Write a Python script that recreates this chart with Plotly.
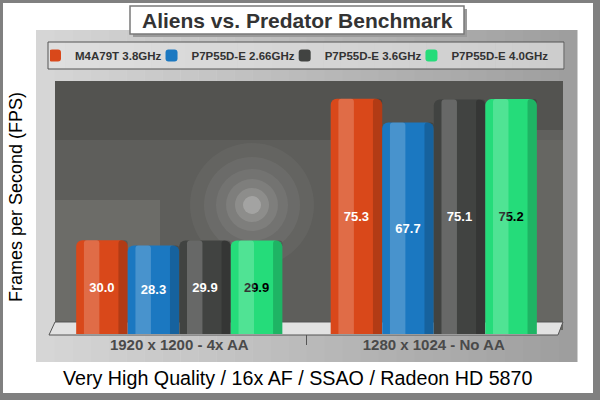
import plotly.graph_objects as go

# data
categories = ["1920 x 1200 - 4x AA", "1280 x 1024 - No AA"]
series_names = ["M4A79T 3.8GHz", "P7P55D-E 2.66GHz", "P7P55D-E 3.6GHz", "P7P55D-E 4.0GHz"]
m4a79t_38 = [30.0, 75.3]
p7p55de_266 = [28.3, 67.7]
p7p55de_36 = [29.9, 75.1]
p7p55de_40 = [29.9, 75.2]

title_text = "Aliens vs. Predator Benchmark"
y_title = "Frames per Second (FPS)"
caption = "Very High Quality / 16x AF / SSAO / Radeon HD 5870"

W, H = 600, 400
ML, MR, MT, MB = 52, 39, 81, 66
PW, PH = W - ML - MR, H - MT - MB
FONT = "Arial, Liberation Sans, sans-serif"


def px(x):
    return (x - ML) / PW


def py(y):
    return (H - MB - y) / PH


def rect(x0, y0, x1, y1, fill, line=None, lw=0, opacity=1.0):
    return dict(type="rect", xref="paper", yref="paper", layer="below",
                x0=px(x0), x1=px(x1), y0=py(y1), y1=py(y0),
                fillcolor=fill, opacity=opacity,
                line=dict(color=line or fill, width=lw))


def mix(c1, c2, t):
    return "rgb(%d,%d,%d)" % tuple(round(a + (b - a) * t) for a, b in zip(c1, c2))


shapes = []
# white card inside the grey frame
shapes.append(rect(3, 3, 593, 393, "white"))
# grey gradient panel
n = 30
for i in range(n):
    x0 = 36 + (577 - 36) * i / n
    x1 = 36 + (577 - 36) * (i + 1) / n + 0.5
    shapes.append(rect(x0, 30, x1, 362, mix((214, 214, 214), (158, 158, 158), i / (n - 1))))
# legend box
for i in range(n):
    x0 = 48 + (564 - 48) * i / n
    x1 = 48 + (564 - 48) * (i + 1) / n + 0.5
    shapes.append(rect(x0, 42, x1, 69, mix((222, 222, 222), (205, 205, 205), i / (n - 1))))
shapes.append(dict(type="rect", xref="paper", yref="paper", layer="below",
                   x0=px(48), x1=px(564), y0=py(69), y1=py(42),
                   line=dict(color="#555555", width=1)))
# title box with soft shadow
shapes.append(rect(133, 9, 467, 37, "#9a9a9a"))
shapes.append(rect(130, 6, 464, 34, "white", line="#7a7a7a", lw=1.5))
# photo backdrop
shapes.append(rect(55, 81, 563, 330, "#5e5e5b"))
shapes.append(rect(55, 81, 563, 140, "#4c4c4a", opacity=0.6))
shapes.append(rect(55, 200, 160, 330, "#7a7a76", opacity=0.5))
shapes.append(rect(420, 130, 563, 330, "#6e6e6a", opacity=0.5))
for r, op in [(62, 0.04), (48, 0.05), (36, 0.06), (26, 0.08), (17, 0.12), (9, 0.2)]:
    shapes.append(dict(type="circle", xref="paper", yref="paper", layer="below",
                       x0=px(252 - r), x1=px(252 + r), y0=py(205 + r), y1=py(205 - r),
                       fillcolor="white", opacity=op, line=dict(width=0)))
# floor
shapes.append(dict(type="path", xref="paper", yref="paper", layer="below",
                   path="M %f %f L %f %f L %f %f L %f %f Z" % (
                       px(49), py(335), px(55), py(322), px(563), py(322), px(558), py(335)),
                   fillcolor="#e2e2e2", line=dict(color="#555555", width=1)))
# category divider below the floor
shapes.append(dict(type="line", xref="x", yref="paper", x0=0.5, x1=0.5,
                   y0=py(335), y1=py(345), line=dict(color="#555555", width=1)))

fig = go.Figure()

series = [m4a79t_38, p7p55de_266, p7p55de_36, p7p55de_40]
colors = ["#d9481a", "#1b78c1", "#414341", "#25dc7a"]
text_colors = ["white", "white", "white", "black"]
group = 0.81
slot = group / len(series)

for i, (name, vals) in enumerate(zip(series_names, series)):
    off = -group / 2 + i * slot
    fig.add_trace(go.Bar(
        x=categories, y=vals, name=name, width=slot, offset=off,
        marker=dict(color=colors[i], line=dict(width=0), cornerradius=6),
        texttemplate="%{y:.1f}", textposition="inside", insidetextanchor="middle",
        textangle=0, constraintext="none",
        textfont=dict(family=FONT, size=13, color=text_colors[i], weight="bold"),
    ))
    # cylinder shading: a soft highlight and a dark right edge
    fig.add_trace(go.Bar(
        x=categories, y=vals, width=slot * 0.3, offset=off + slot * 0.15,
        marker=dict(color="white", opacity=0.2, line=dict(width=0), cornerradius=3),
        showlegend=False, hoverinfo="skip",
    ))
    fig.add_trace(go.Bar(
        x=categories, y=vals, width=slot * 0.18, offset=off + slot * 0.82,
        marker=dict(color="black", opacity=0.18, line=dict(width=0), cornerradius=3),
        showlegend=False, hoverinfo="skip",
    ))

annotations = [
    dict(text="<b>%s</b>" % title_text, xref="paper", yref="paper", x=px(297), y=py(20),
         xanchor="center", yanchor="middle",
         showarrow=False, font=dict(family=FONT, size=21, color="#333333")),
    dict(text=y_title, xref="paper", yref="paper", x=px(16), y=py(197), textangle=-90,
         xanchor="center", yanchor="middle",
         showarrow=False, font=dict(family=FONT, size=18, color="black")),
    dict(text=caption, xref="paper", yref="paper", x=px(298), y=py(378),
         xanchor="center", yanchor="middle",
         showarrow=False, font=dict(family=FONT, size=19.7, color="black")),
]

fig.update_layout(
    width=W, height=H,
    margin=dict(l=ML, r=MR, t=MT, b=MB, autoexpand=False),
    paper_bgcolor="#808080", plot_bgcolor="rgba(0,0,0,0)",
    barmode="overlay",
    shapes=shapes, annotations=annotations,
    showlegend=True,
    legend=dict(orientation="h", x=px(50), xanchor="left", y=py(55.5), yanchor="middle",
                bgcolor="rgba(0,0,0,0)", borderwidth=0, indentation=-15,
                font=dict(family=FONT, size=11.5, color="#333333", weight="bold"),
                itemwidth=30, traceorder="normal"),
    xaxis=dict(type="category", range=[-0.5, 1.5], showgrid=False, zeroline=False,
               showline=False, ticks="",
               tickfont=dict(family=FONT, size=15, color="#4a4a4a", weight="bold")),
    yaxis=dict(range=[0, 81], showgrid=False, zeroline=False, showticklabels=False,
               showline=False),
)

# the page body has a default 8px margin; drop it so the 600x400 figure fills the window
fig.write_html("out.html", config={"displayModeBar": False},
               post_script="document.body.style.margin = '0';")
